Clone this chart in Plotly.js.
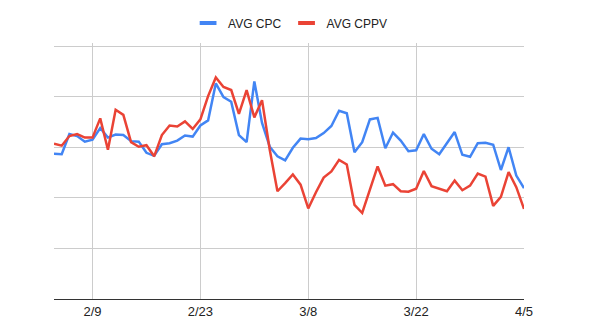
<!DOCTYPE html>
<html>
<head>
<meta charset="utf-8">
<script src="https://cdn.plot.ly/plotly-3.0.1.min.js"></script>
<style>html,body{margin:0;padding:0;background:#fff;}#chart{width:592px;height:333px;}</style>
</head>
<body>
<div id="chart"></div>
<script>
// Daily dates 2020-02-04 .. 2020-04-05
const dayCount = 62;
const dates = [];
for (let i = 0; i < dayCount; i++) {
  const d = new Date(Date.UTC(2020, 1, 4 + i));
  dates.push(d.toISOString().slice(0, 10));
}

const seriesNames = ['AVG CPC', 'AVG CPPV'];

const avgCpc = [
  2.87, 2.86, 3.26, 3.22, 3.11, 3.15, 3.38, 3.19, 3.25, 3.24,
  3.12, 3.11, 2.89, 2.83, 3.06, 3.08, 3.13, 3.23, 3.21, 3.43,
  3.53, 4.26, 3.99, 3.90, 3.24, 3.10, 4.30, 3.48, 3.01, 2.82,
  2.74, 2.99, 3.17, 3.16, 3.18, 3.28, 3.42, 3.72, 3.67, 2.90,
  3.10, 3.55, 3.58, 2.98, 3.29, 3.13, 2.92, 2.94, 3.26, 2.97,
  2.86, 3.08, 3.30, 2.85, 2.81, 3.08, 3.09, 3.05, 2.55, 3.00,
  2.44, 2.19
];

const avgCppv = [
  3.07, 3.03, 3.22, 3.26, 3.19, 3.19, 3.57, 2.95, 3.74, 3.64,
  3.10, 3.01, 3.04, 2.82, 3.24, 3.43, 3.41, 3.51, 3.36, 3.55,
  4.01, 4.38, 4.19, 4.13, 3.66, 4.13, 3.59, 3.93, 2.95, 2.13,
  2.29, 2.46, 2.26, 1.79, 2.11, 2.40, 2.52, 2.75, 2.66, 1.86,
  1.70, 2.18, 2.62, 2.24, 2.27, 2.13, 2.12, 2.18, 2.53, 2.23,
  2.18, 2.13, 2.34, 2.15, 2.24, 2.48, 2.42, 1.84, 2.02, 2.51,
  2.21, 1.78
];

const tickDates = ['2020-02-09', '2020-02-23', '2020-03-08', '2020-03-22', '2020-04-05'];
const tickLabels = ['2/9', '2/23', '3/8', '3/22', '4/5'];

const colors = ['#4285F4', '#EA4335'];
const font = '"Liberation Sans", Arial, sans-serif';

const traces = [];
[avgCpc, avgCppv].forEach((vals, k) => {
  traces.push({x: dates, y: vals, name: seriesNames[k], type: 'scatter', mode: 'lines',
    line: {color: colors[k], width: 2.5}, legendgroup: 'g' + k, showlegend: false});
});
// legend entries with a short bar swatch
[0, 1].forEach(k => {
  traces.push({x: [null], y: [null], name: seriesNames[k], type: 'scatter', mode: 'markers',
    legendgroup: 'g' + k, showlegend: true,
    marker: {symbol: 'line-ew-open', size: 12, color: colors[k],
             line: {color: colors[k], width: 4}}});
});

const layout = {
  width: 592, height: 333,
  margin: {l: 54, r: 68, t: 43, b: 34, pad: 0},
  paper_bgcolor: '#ffffff', plot_bgcolor: '#ffffff',
  font: {family: font, size: 12, color: '#222222'},
  showlegend: true,
  legend: {
    orientation: 'h', xref: 'container', yref: 'container',
    x: 0.49, xanchor: 'center', y: 0.931, yanchor: 'middle',
    font: {family: font, size: 12, color: '#222222'},
    itemwidth: 30, bgcolor: 'rgba(0,0,0,0)'
  },
  xaxis: {
    type: 'date', range: [dates[0], dates[dates.length - 1]],
    tickmode: 'array', tickvals: tickDates, ticktext: tickLabels,
    showgrid: true, gridcolor: '#cccccc', gridwidth: 1,
    showline: true, linecolor: '#333333', linewidth: 1,
    ticks: '', zeroline: false,
    tickfont: {family: font, size: 13, color: '#222222'}
  },
  yaxis: {
    range: [0, 5.06], dtick: 1, tick0: 0,
    showticklabels: false, showgrid: true, gridcolor: '#cccccc', gridwidth: 1,
    zeroline: false, showline: false, ticks: ''
  }
};

Plotly.newPlot('chart', traces, layout, {displayModeBar: false, staticPlot: true});
</script>
</body>
</html>
